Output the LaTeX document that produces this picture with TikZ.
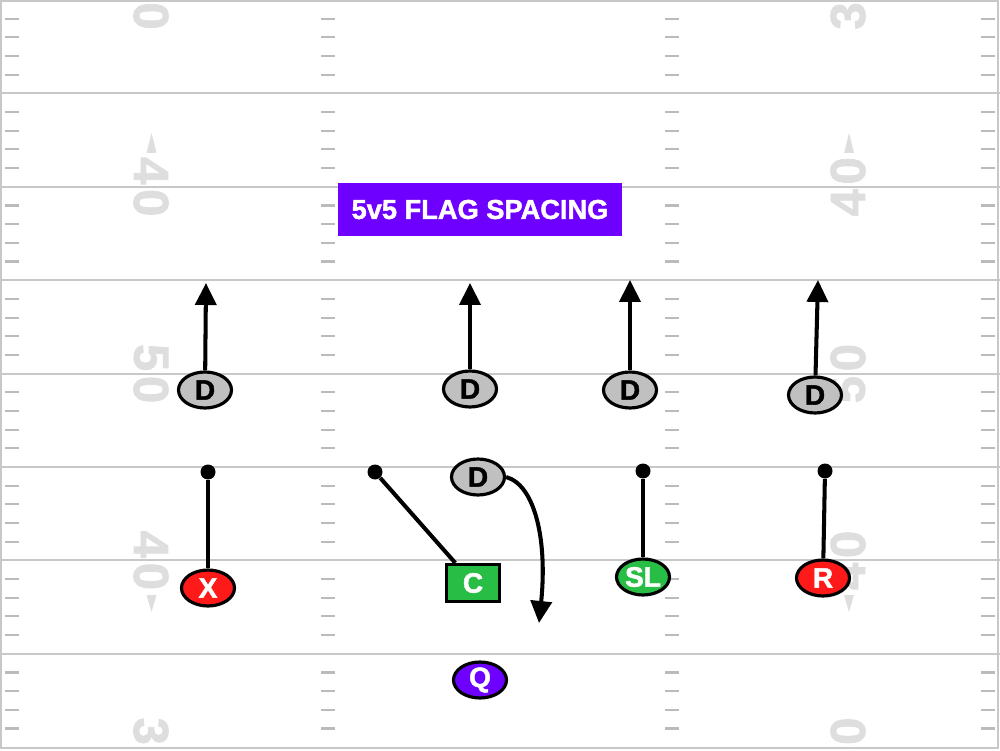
\documentclass[tikz,border=0pt]{standalone}
\usepackage{fontspec}
\setmainfont{Liberation Sans}
\newfontfamily\heavyfont{Liberation Sans}[BoldFeatures={FakeBold=1.6}]
\usetikzlibrary{arrows.meta}
\usetikzlibrary{shapes}

\definecolor{fieldline}{RGB}{200,200,200}
\definecolor{hashgray}{RGB}{187,187,187}
\definecolor{numgray}{RGB}{222,222,222}
\definecolor{defgray}{RGB}{192,192,192}
\definecolor{offred}{RGB}{255,26,26}
\definecolor{offgreen}{RGB}{40,190,70}
\definecolor{qpurple}{RGB}{110,0,255}

\begin{document}
\begin{tikzpicture}[scale=1.0]
        \tikzset{player/.style = {shape=ellipse,draw,line width=1.8pt,minimum width=1.06cm,minimum height=0.72cm,inner sep=0pt,font=\heavyfont\fontsize{16}{16}\selectfont\bfseries}}
        \tikzset{defender/.style = {player,fill=defgray,text=black}}
        \tikzset{start/.style = {shape=circle,fill=black,minimum size=0.3cm,inner sep=0pt}}
        \tikzset{route/.style = {line width=2.3pt}}
        \tikzset{edge/.style = {route,-{Triangle[width=0.42cm,length=0.44cm]}}}
        \tikzset{yardnum/.style = {text=numgray,inner sep=0pt,font=\heavyfont\fontsize{28}{28}\selectfont\bfseries}}
        \useasboundingbox (0,0) rectangle (20,15);
        \clip (0,0) rectangle (20,15);
        % field
        \foreach \k in {1,...,7}
            \draw[fieldline, line width=1.1pt] (0,15-\k*1.868) -- (20,15-\k*1.868);
        \foreach \l in {0,...,7}
            \foreach \k in {1,...,4}
                \foreach \hx in {0.1,6.42,13.3,19.62}
                    \draw[hashgray, line width=1.2pt] (\hx,15-\l*1.868-\k*0.3736) -- ++(0.28,0);
        \draw[fieldline, line width=1.1pt] (0.02,0.04) rectangle (19.96,14.98);
        % yard numbers
        \foreach \ly/\da/\db [count=\i] in {15/3/0,11.264/4/0,7.528/5/0,3.792/4/0,0.056/3/0}{
            \node[yardnum, rotate=-90] (la\i) at (3.02,\ly+0.32) {\da};
            \node[yardnum, rotate=-90] (lb\i) at (3.02,\ly-0.32) {\db};
            \node[yardnum, rotate=90] (ra\i) at (16.96,\ly-0.32) {\da};
            \node[yardnum, rotate=90] (rb\i) at (16.96,\ly+0.32) {\db};
        }
        \foreach \ax in {3.03,16.98}{
            \fill[numgray] (\ax,12.34) -- (\ax-0.1,11.94) -- (\ax+0.1,11.94) -- cycle;
            \fill[numgray] (\ax,2.76) -- (\ax-0.1,3.1) -- (\ax+0.1,3.1) -- cycle;
        }
        % title
        \node[fill=qpurple, text=white, minimum width=5.68cm, minimum height=1.06cm, font=\heavyfont\fontsize{15.5}{15.5}\selectfont\bfseries] (title) at (9.6,10.81) {5v5 FLAG SPACING};
        % defense
        \node[defender] (d1) at (4.10,7.20) {D};
        \node[defender] (d2) at (9.40,7.22) {D};
        \node[defender] (d3) at (12.60,7.20) {D};
        \node[defender] (d4) at (16.30,7.10) {D};
        \node[defender] (d5) at (9.56,5.46) {D};
        % offense
        \node[player, fill=offred, text=white] (x) at (4.16,3.24) {X};
        \node[player, shape=rectangle, fill=offgreen, text=white, minimum width=1.06cm, minimum height=0.74cm] (c) at (9.46,3.34) {C};
        \node[player, fill=offgreen, text=white] (sl) at (12.86,3.46) {SL};
        \node[player, fill=offred, text=white] (r) at (16.46,3.44) {R};
        \node[player, fill=qpurple, text=white] (q) at (9.60,1.40) {Q};
        % route starts
        \node[start] (xs) at (4.16,5.56) {};
        \node[start] (cs) at (7.50,5.56) {};
        \node[start] (sls) at (12.86,5.58) {};
        \node[start] (rs) at (16.50,5.58) {};
        % arrow ends
        \coordinate (d1t) at (4.12,9.34);
        \coordinate (d2t) at (9.40,9.34);
        \coordinate (d3t) at (12.60,9.40);
        \coordinate (d4t) at (16.36,9.40);
        \coordinate (d5t) at (10.78,2.54);
        % routes
        \draw[route] (x) to (xs);
        \draw[route] (c) to (cs);
        \draw[route] (sl) to (sls);
        \draw[route] (r) to (rs);
        \draw[edge] (d1) to (d1t);
        \draw[edge] (d2) to (d2t);
        \draw[edge] (d3) to (d3t);
        \draw[edge] (d4) to (d4t);
        \draw[edge] (d5.east) .. controls (10.7,5.3) and (10.95,4.2) .. (d5t);
    \end{tikzpicture}
\end{document}
